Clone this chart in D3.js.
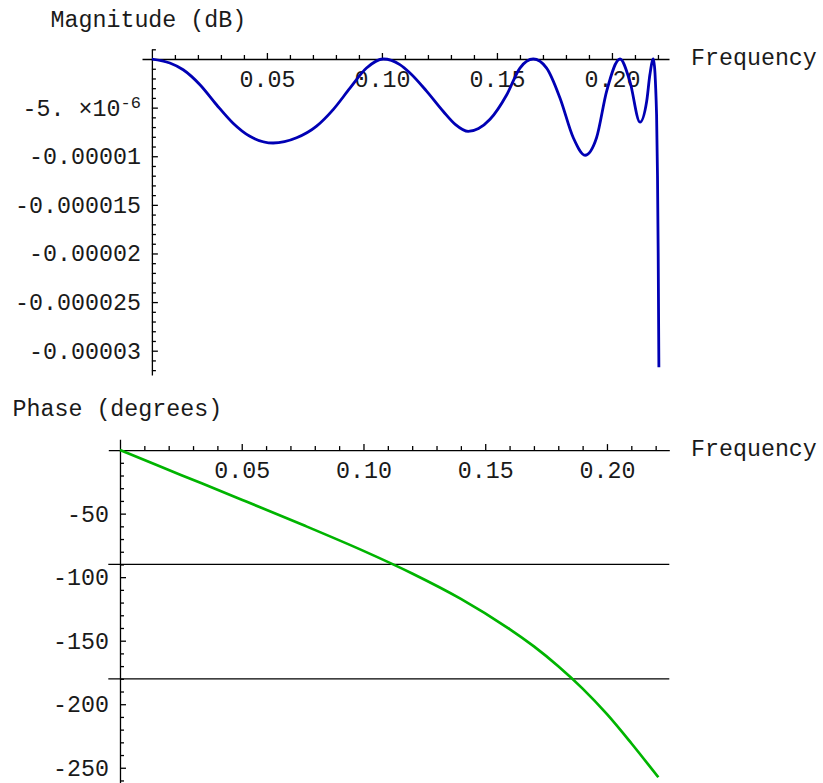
<!DOCTYPE html>
<html>
<head>
<meta charset="utf-8">
<script src="https://cdn.jsdelivr.net/npm/d3@7"></script>
<style>
  body { margin: 0; background: #fff; }
  svg text { font-family: 'Liberation Mono', 'Courier New', monospace; font-size: 23.3px; fill: #1a1a1a; }
  .axis path, .axis line { stroke: #000; stroke-width: 1.3; }
</style>
</head>
<body>
<svg id="chart" width="823" height="783"></svg>
<script>
// Magnitude response (dB)
const magFreq = [0, 0.0078, 0.0136, 0.0209, 0.0281, 0.0353, 0.0426, 0.0527, 0.0629, 0.0716, 0.0788, 0.0861, 0.0933,
  0.1006, 0.1078, 0.1122, 0.1194, 0.1267, 0.132, 0.1375, 0.142, 0.147, 0.1542, 0.16, 0.1658, 0.1716, 0.1774, 0.1832,
  0.1883, 0.1933, 0.1977, 0.2035, 0.2078, 0.2122, 0.2151, 0.2165, 0.218, 0.2194, 0.2198, 0.2201, 0.2204]
const magDb = [0, -0.41e-6, -1.1e-6, -2.64e-6, -4.7e-6, -6.6e-6, -7.95e-6, -8.64e-6, -8.1e-6, -6.9e-6, -5.2e-6, -3.0e-6, -0.93e-6,
  0, -0.58e-6, -1.44e-6, -3.3e-6, -5.4e-6, -6.75e-6, -7.45e-6, -7.15e-6, -6.2e-6, -3.7e-6, -0.93e-6, 0, -0.93e-6, -4.0e-6, -8.1e-6,
  -9.9e-6, -8.1e-6, -3.3e-6, 0, -2.3e-6, -6.5e-6, -4.35e-6, -1.6e-6, 0, -5.7e-6, -12e-6, -20e-6, -31.7e-6]

// Phase response (degrees)
const phaseFreq = [0, 0.025, 0.05, 0.075, 0.1, 0.12, 0.14, 0.16, 0.17, 0.18, 0.19, 0.2, 0.21, 0.2211]
const phaseDeg = [0, -19.5, -39, -58.8, -79.3, -97.1, -117.1, -140.8, -154.5, -170.1, -187.7, -207.8, -230.7, -257.5]

// tick labels
const freqTicks = [0.05, 0.10, 0.15, 0.20]
const freqTickLabels = ['0.05', '0.10', '0.15', '0.20']
const magTicks = [-5e-6, -1e-5, -1.5e-5, -2e-5, -2.5e-5, -3e-5]
const magTickLabels = ['-5. ×10^-6', '-0.00001', '-0.000015', '-0.00002', '-0.000025', '-0.00003']
const phaseTicks = [-50, -100, -150, -200, -250]
const phaseTickLabels = ['-50', '-100', '-150', '-200', '-250']
const phaseRefLines = [-90, -180]

const svg = d3.select('#chart')

// draws Mathematica-style axes: ticks point into the plot, labels outside
function drawAxes(x, y, xMinor, yMinor, yTicks, yLabels) {
  const xAx = svg.append('g').attr('class', 'axis').attr('transform', `translate(0,${y(0)})`)
  xAx.call(d3.axisBottom(x).tickValues(xMinor).tickFormat('').tickSizeInner(-4).tickSizeOuter(0))
  xAx.append('g').call(
    d3.axisBottom(x).tickValues(freqTicks).tickFormat((d, i) => freqTickLabels[i])
      .tickSizeInner(-6).tickSizeOuter(0).tickPadding(11.5)
  ).call((g) => g.select('.domain').remove())

  const yAx = svg.append('g').attr('class', 'axis').attr('transform', `translate(${x(0)},0)`)
  yAx.call(d3.axisLeft(y).tickValues(yMinor).tickFormat('').tickSizeInner(-4).tickSizeOuter(0))
  yAx.append('g').call(
    d3.axisLeft(y).tickValues(yTicks).tickFormat((d, i) => yLabels[i])
      .tickSizeInner(-6).tickSizeOuter(0).tickPadding(11)
  ).call((g) => g.select('.domain').remove())

  svg.selectAll('.axis').attr('font-family', null).attr('font-size', null)
  return yAx
}

/**
 * Magnitude plot
 * */
const xMag = d3.scaleLinear().domain([-0.0043, 0.2248]).range([142, 669])
const yMag = d3.scaleLinear().domain([1e-6, -3.25e-5]).range([49.3, 375])

const magMinorX = d3.range(1, 23).map((k) => k / 100).filter((v) => Math.round(v * 100) % 5 !== 0)
const magMinorY = d3.range(1, -33, -1).map((k) => k * 1e-6).filter((v) => Math.round(v * 1e6) % 5 !== 0)

const magYAxis = drawAxes(xMag, yMag, magMinorX, magMinorY, magTicks, magTickLabels)

// superscript for the 10^-6 label
magYAxis.selectAll('text').each(function () {
  const s = d3.select(this).text()
  if (s.includes('^')) {
    const [base, sup] = s.split('^')
    const t = d3.select(this).text(base)
    t.append('tspan').attr('dy', '-0.42em').style('font-size', '17px').text(sup)
  }
})

svg.append('text').attr('x', 50.5).attr('y', 27).text('Magnitude (dB)')
svg.append('text').attr('x', 691).attr('y', 65).text('Frequency')

const magLine = d3.line()
  .x((d) => xMag(d[0]))
  .y((d) => yMag(d[1]))
  .curve(d3.curveMonotoneX)

svg.append('path')
  .attr('d', magLine(d3.zip(magFreq, magDb)))
  .attr('fill', 'none')
  .attr('stroke', '#0000b4')
  .attr('stroke-width', 2.8)

/**
 * Phase plot
 * */
const xPh = d3.scaleLinear().domain([-0.0048, 0.2256]).range([108.3, 669.3])
const yPh = d3.scaleLinear().domain([8.5, -262]).range([439.3, 783])

const phMinorX = d3.range(1, 23).map((k) => k / 100).filter((v) => Math.round(v * 100) % 5 !== 0)
const phMinorY = d3.range(-10, -270, -10).filter((v) => v % 50 !== 0)

drawAxes(xPh, yPh, phMinorX, phMinorY, phaseTicks, phaseTickLabels)

svg.selectAll('.ref-line')
  .data(phaseRefLines)
  .join('line')
  .attr('class', 'ref-line')
  .attr('x1', xPh.range()[0])
  .attr('x2', xPh.range()[1])
  .attr('y1', (d) => yPh(d))
  .attr('y2', (d) => yPh(d))
  .attr('stroke', '#000')
  .attr('stroke-width', 1.3)

svg.append('text').attr('x', 12.5).attr('y', 416).text('Phase (degrees)')
svg.append('text').attr('x', 691).attr('y', 456).text('Frequency')

const phLine = d3.line()
  .x((d) => xPh(d[0]))
  .y((d) => yPh(d[1]))
  .curve(d3.curveCatmullRom.alpha(0.5))

svg.append('path')
  .attr('d', phLine(d3.zip(phaseFreq, phaseDeg)))
  .attr('fill', 'none')
  .attr('stroke', '#00b400')
  .attr('stroke-width', 2.7)
</script>
</body>
</html>
